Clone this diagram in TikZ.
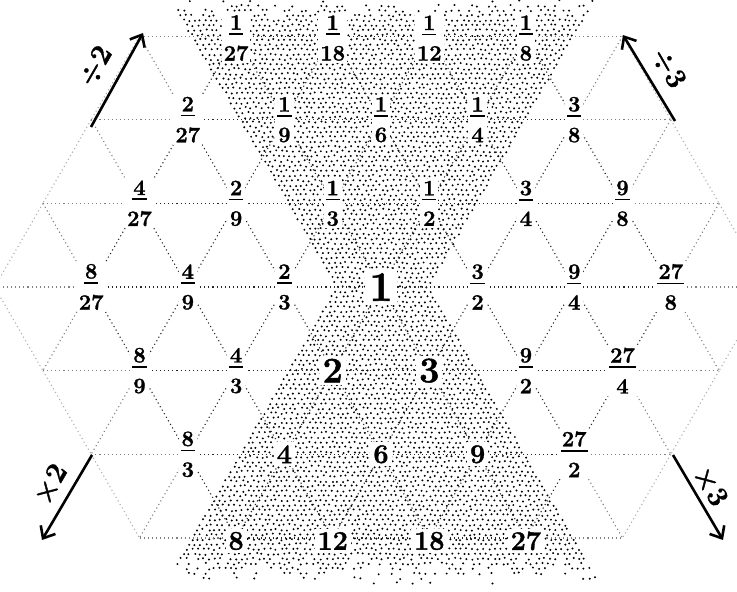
\documentclass[tikz,border=0pt]{standalone}
\usepackage{fontspec}
\newfontfamily\heavy{Latin Modern Roman}[FakeBold=1.3]
\usetikzlibrary{arrows.meta}
\newsavebox\numbx
\newcommand\fr[2]{\sbox\numbx{#1}\vbox{\offinterlineskip\halign{\hfil##\hfil\cr\usebox\numbx\cr\noalign{\kern3.5pt}\rule{\dimexpr\wd\numbx+2pt\relax}{1.6pt}\cr\noalign{\kern11pt}#2\cr}}}
\newcommand\latedge[4]{%
  \pgfmathtruncatemacro\lok{and(and(abs((#1)+(#2))<4,abs((#3)+(#4))<4),and(abs(#3)<5,abs(#4)<5))}%
  \ifnum\lok=1
    \pgfmathtruncatemacro\lsrc{or(abs(#1)==4,abs(#2)==4)}%
    \pgfmathtruncatemacro\ltgt{or(abs(#3)==4,abs(#4)==4)}%
    \pgfmathtruncatemacro\lout{\lsrc+\ltgt}%
    \ifcase\lout
      \draw[latdark] (c#1x#2) -- (c#3x#4);
    \or
      \draw[latmid] (c#1x#2) -- (c#3x#4);
    \else
      \draw[latlight] (c#1x#2) -- (c#3x#4);
    \fi
  \fi}
\begin{document}
\begin{tikzpicture}[x=1pt,y=-1pt,
  latdark/.style={line width=1.1pt,dash pattern=on 1.1pt off 3pt,black!85},
  latmid/.style={line width=1.1pt,dash pattern=on 1.1pt off 3pt,black!50},
  latlight/.style={line width=1.1pt,dash pattern=on 1.1pt off 3pt,black!32},
  stip/.style={fill=black},
  fracnode/.style={fill=white,inner sep=2pt,font=\heavy\fontsize{22}{26}\selectfont\bfseries},
  intnode/.style={fill=white,inner sep=3pt,font=\heavy\fontsize{27}{31}\selectfont\bfseries},
  bignode/.style={fill=white,inner sep=3pt,font=\heavy\fontsize{36}{40}\selectfont\bfseries},
  onenode/.style={fill=white,inner sep=4pt,font=\heavy\fontsize{42}{46}\selectfont\bfseries},
  oparrow/.style={line width=2.6pt,-{Straight Barb[length=10pt,width=17pt]}},
  oplabel/.style={inner sep=1pt,font=\heavy\fontsize{29}{33}\selectfont\bfseries}]
\useasboundingbox (0,0) rectangle (737,592);
\clip (0,0) rectangle (737,592);
% stipple cones
\pgfmathsetseed{4242}
\foreach \r in {0,...,121}{%
  \pgfmathsetmacro\yy{1+4.85*\r}%
  \pgfmathsetmacro\hw{max(370-\yy,\yy-203)*0.57735}%
  \pgfmathtruncatemacro\imin{ceil((231-\hw)/5.6)}%
  \pgfmathtruncatemacro\imax{floor((231+\hw)/5.6)}%
  \pgfmathsetmacro\off{2.8*mod(\r,2)}%
  \pgfmathsetmacro\pk{min(1,min(\yy/18,(584-\yy)/30))}%
  \foreach \i in {\imin,...,\imax}{%
    \pgfmathtruncatemacro\keep{rnd<\pk}%
    \ifnum\keep=1
      \fill[stip] ({150+5.6*\i+\off+1.0*rand},{\yy+1.0*rand}) circle (1.1pt);
    \fi
  }%
}
% lattice points
\foreach \ia in {-4,...,4}{\foreach \ib in {-4,...,4}{%
  \pgfmathtruncatemacro\sab{abs((\ia)+(\ib))}%
  \ifnum\sab<4 \coordinate (c\ia x\ib) at ({381+48.3*((\ib)-(\ia))},{287+83.65*((\ia)+(\ib))});\fi
}}
% lattice edges
\foreach \ia in {-4,...,4}{\foreach \ib in {-4,...,4}{%
  \pgfmathtruncatemacro\sab{abs((\ia)+(\ib))}%
  \ifnum\sab<4
    \pgfmathtruncatemacro\ap{\ia+1}\pgfmathtruncatemacro\am{\ia-1}\pgfmathtruncatemacro\bp{\ib+1}%
    \latedge{\ia}{\ib}{\ap}{\ib}\latedge{\ia}{\ib}{\ia}{\bp}\latedge{\ia}{\ib}{\am}{\bp}%
  \fi}}
% row -3
\node[fracnode] (n0x-3) at ([yshift=-2pt]c0x-3) {\fr{1}{27}};
\node[fracnode] (n-1x-2) at ([yshift=-2pt]c-1x-2) {\fr{1}{18}};
\node[fracnode] (n-2x-1) at ([yshift=-2pt]c-2x-1) {\fr{1}{12}};
\node[fracnode] (n-3x0) at ([yshift=-2pt]c-3x0) {\fr{1}{8}};
% row -2
\node[fracnode] (n1x-3) at (c1x-3) {\fr{2}{27}};
\node[fracnode] (n0x-2) at (c0x-2) {\fr{1}{9}};
\node[fracnode] (n-1x-1) at (c-1x-1) {\fr{1}{6}};
\node[fracnode] (n-2x0) at (c-2x0) {\fr{1}{4}};
\node[fracnode] (n-3x1) at (c-3x1) {\fr{3}{8}};
% row -1
\node[fracnode] (n2x-3) at (c2x-3) {\fr{4}{27}};
\node[fracnode] (n1x-2) at (c1x-2) {\fr{2}{9}};
\node[fracnode] (n0x-1) at (c0x-1) {\fr{1}{3}};
\node[fracnode] (n-1x0) at (c-1x0) {\fr{1}{2}};
\node[fracnode] (n-2x1) at (c-2x1) {\fr{3}{4}};
\node[fracnode] (n-3x2) at (c-3x2) {\fr{9}{8}};
% row 0
\node[fracnode] (n3x-3) at (c3x-3) {\fr{8}{27}};
\node[fracnode] (n2x-2) at (c2x-2) {\fr{4}{9}};
\node[fracnode] (n1x-1) at (c1x-1) {\fr{2}{3}};
\node[onenode] (n0x0) at (c0x0) {1};
\node[fracnode] (n-1x1) at (c-1x1) {\fr{3}{2}};
\node[fracnode] (n-2x2) at (c-2x2) {\fr{9}{4}};
\node[fracnode] (n-3x3) at (c-3x3) {\fr{27}{8}};
% row 1
\node[fracnode] (n3x-2) at (c3x-2) {\fr{8}{9}};
\node[fracnode] (n2x-1) at (c2x-1) {\fr{4}{3}};
\node[bignode] (n1x0) at (c1x0) {2};
\node[bignode] (n0x1) at (c0x1) {3};
\node[fracnode] (n-1x2) at (c-1x2) {\fr{9}{2}};
\node[fracnode] (n-2x3) at (c-2x3) {\fr{27}{4}};
% row 2
\node[fracnode] (n3x-1) at (c3x-1) {\fr{8}{3}};
\node[intnode] (n2x0) at (c2x0) {4};
\node[intnode] (n1x1) at (c1x1) {6};
\node[intnode] (n0x2) at (c0x2) {9};
\node[fracnode] (n-1x3) at (c-1x3) {\fr{27}{2}};
% row 3
\node[intnode] (n3x0) at ([yshift=-3pt]c3x0) {8};
\node[intnode] (n2x1) at ([yshift=-3pt]c2x1) {12};
\node[intnode] (n1x2) at ([yshift=-3pt]c1x2) {18};
\node[intnode] (n0x3) at ([yshift=-3pt]c0x3) {27};
% arrows
\coordinate (d2s) at (91,127); \coordinate (d2e) at (143,33);
\coordinate (d3s) at (675,121); \coordinate (d3e) at (623,35);
\coordinate (m2s) at (92,455); \coordinate (m2e) at (42,540);
\coordinate (m3s) at (673,455); \coordinate (m3e) at (723,540);
\draw[oparrow] (d2s) -- (d2e);
\draw[oparrow] (d3s) -- (d3e);
\draw[oparrow] (m2s) -- (m2e);
\draw[oparrow] (m3s) -- (m3e);
\node[oplabel,rotate=60] (ld2) at (95,66) {÷2};
\node[oplabel,rotate=-60] (ld3) at (669,68) {÷3};
\node[oplabel,rotate=60] (lm2) at (50,484) {×2};
\node[oplabel,rotate=-60] (lm3) at (711,486) {×3};
\end{tikzpicture}
\end{document}
